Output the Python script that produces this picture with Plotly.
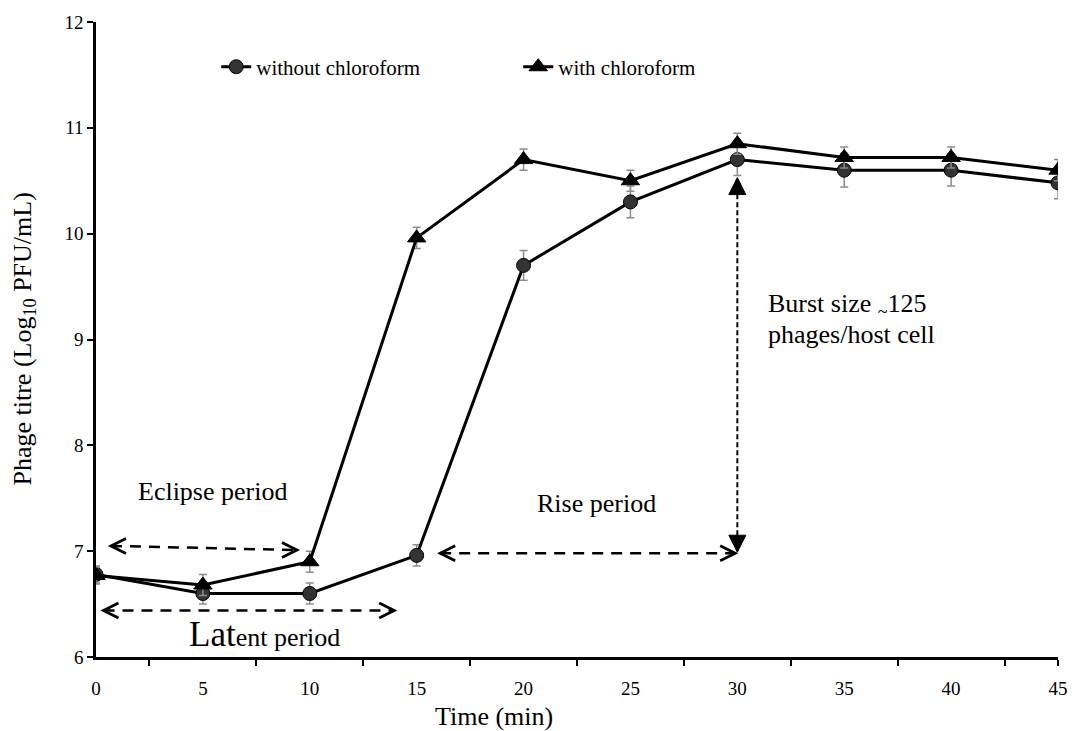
import plotly.graph_objects as go

# One-step growth curve of the phage, sampled every 5 minutes
time_min = [0, 5, 10, 15, 20, 25, 30, 35, 40, 45]
titre_without = [6.78, 6.60, 6.60, 6.96, 9.70, 10.30, 10.70, 10.60, 10.60, 10.48]
err_without = [0.08, 0.10, 0.10, 0.10, 0.14, 0.15, 0.15, 0.16, 0.15, 0.15]
titre_with = [6.77, 6.68, 6.90, 9.96, 10.70, 10.50, 10.85, 10.72, 10.72, 10.60]
err_with = [0.08, 0.10, 0.10, 0.10, 0.10, 0.10, 0.10, 0.10, 0.10, 0.10]

x_labels = [str(t) for t in time_min]
x_tick_marks = [2.5, 7.5, 12.5, 17.5, 22.5, 27.5, 32.5, 37.5, 42.5, 45]

FONT = "Liberation Serif"
ERR_COLOR = "#8c8c8c"

fig = go.Figure()

fig.add_trace(go.Scatter(
    x=time_min, y=titre_without, name="without chloroform",
    mode="lines+markers",
    line=dict(color="black", width=3),
    marker=dict(symbol="circle", size=14, color="#333333",
                line=dict(color="black", width=1)),
    error_y=dict(type="data", array=err_without, color=ERR_COLOR,
                 thickness=1.5, width=4),
))
fig.add_trace(go.Scatter(
    x=time_min, y=titre_with, name="with chloroform",
    mode="lines+markers",
    line=dict(color="black", width=3),
    marker=dict(symbol="triangle-up", size=16, color="black",
                line=dict(color="black", width=1)),
    error_y=dict(type="data", array=err_with, color=ERR_COLOR,
                 thickness=1.5, width=4),
))

shapes = []
annotations = []


def pixel_path(x, y, path, fill=None, width=2.5):
    """Small glyph drawn in pixel units around a data-space anchor."""
    shape = dict(type="path", xref="x", yref="y", xsizemode="pixel",
                 ysizemode="pixel", xanchor=x, yanchor=y, path=path,
                 line=dict(color="black", width=width))
    if fill:
        shape["fillcolor"] = fill
    shapes.append(shape)


def dashed_double_arrow(x0, y0, x1, y1):
    shapes.append(dict(type="line", xref="x", yref="y", x0=x0, y0=y0,
                       x1=x1, y1=y1,
                       line=dict(color="black", width=2.5, dash="11px,8px")))
    # open chevron heads at both ends
    pixel_path(x0, y0, "M 15 7.5 L 0 0 L 15 -7.5", width=2.8)
    pixel_path(x1, y1, "M -15 7.5 L 0 0 L -15 -7.5", width=2.8)


# Eclipse, latent and rise periods
dashed_double_arrow(0.7, 7.05, 9.4, 7.01)
dashed_double_arrow(0.35, 6.44, 13.95, 6.44)
dashed_double_arrow(16.1, 6.98, 29.9, 6.98)

# Burst size arrow at 30 min
shapes.append(dict(type="line", xref="x", yref="y", x0=30, y0=7.15, x1=30,
                   y1=10.38, line=dict(color="black", width=2, dash="5px,3px")))
pixel_path(30, 10.53, "M 0 0 L -8.5 -17 L 8.5 -17 Z", fill="black", width=1)
pixel_path(30, 6.99, "M 0 0 L -8.5 17 L 8.5 17 Z", fill="black", width=1)

text_font = dict(family=FONT, size=26, color="black")
annotations += [
    dict(x=5.47, y=7.56, xref="x", yref="y", text="Eclipse period",
         showarrow=False, font=text_font),
    dict(x=7.9, y=6.21, xref="x", yref="y",
         text="<span style='font-size:35px'>Lat</span>ent period",
         showarrow=False, font=text_font),
    dict(x=23.41, y=7.45, xref="x", yref="y", text="Rise period",
         showarrow=False, font=text_font),
    dict(x=31.4, y=9.32, xref="x", yref="y", xanchor="left",
         yanchor="middle", height=29, borderpad=0,
         text="Burst size <sub>~</sub>125", showarrow=False, font=text_font),
    dict(x=31.4, y=9.047, xref="x", yref="y", xanchor="left",
         yanchor="middle", height=29, borderpad=0,
         text="phages/host cell", showarrow=False, font=text_font),
    # axis titles
    dict(x=18.6, y=-(717 - 657) / 638, xref="x", yref="paper",
         xanchor="center", yanchor="middle", text="Time (min)",
         showarrow=False, font=dict(family=FONT, size=26)),
    dict(x=-(96 - 23) / 962, y=0.5, xref="paper", yref="paper",
         xanchor="center", yanchor="middle",
         text="Phage titre (Log<sub>10</sub> PFU/mL)", textangle=-90,
         showarrow=False, font=dict(family=FONT, size=26)),
]

fig.update_layout(
    width=1085, height=731,
    margin=dict(l=96, r=27, t=19, b=74),
    paper_bgcolor="white", plot_bgcolor="white",
    font=dict(family=FONT, size=18, color="black"),
    showlegend=True,
    legend=dict(orientation="h", x=0.125, y=0.929, xanchor="left",
                yanchor="middle", font=dict(family=FONT, size=21),
                entrywidth=257, entrywidthmode="pixels",
                bgcolor="rgba(0,0,0,0)", itemwidth=30),
    shapes=shapes,
    annotations=annotations,
    xaxis=dict(range=[0, 45], tickmode="array", tickvals=time_min,
               ticktext=x_labels, ticks="", showgrid=False, zeroline=False,
               showline=True, linecolor="black", linewidth=2.5,
               tickfont=dict(family=FONT, size=19), ticklabelstandoff=12,
               minor=dict(tickmode="array", tickvals=x_tick_marks,
                          ticks="outside", ticklen=6, tickwidth=2,
                          tickcolor="black", showgrid=False)),
    yaxis=dict(range=[6, 12], tickmode="linear", tick0=6, dtick=1,
               ticks="outside", ticklen=6, tickwidth=2, tickcolor="black",
               showgrid=False, zeroline=False, showline=True,
               linecolor="black", linewidth=2.5,
               tickfont=dict(family=FONT, size=19)),
)

fig.write_html("out.html")
